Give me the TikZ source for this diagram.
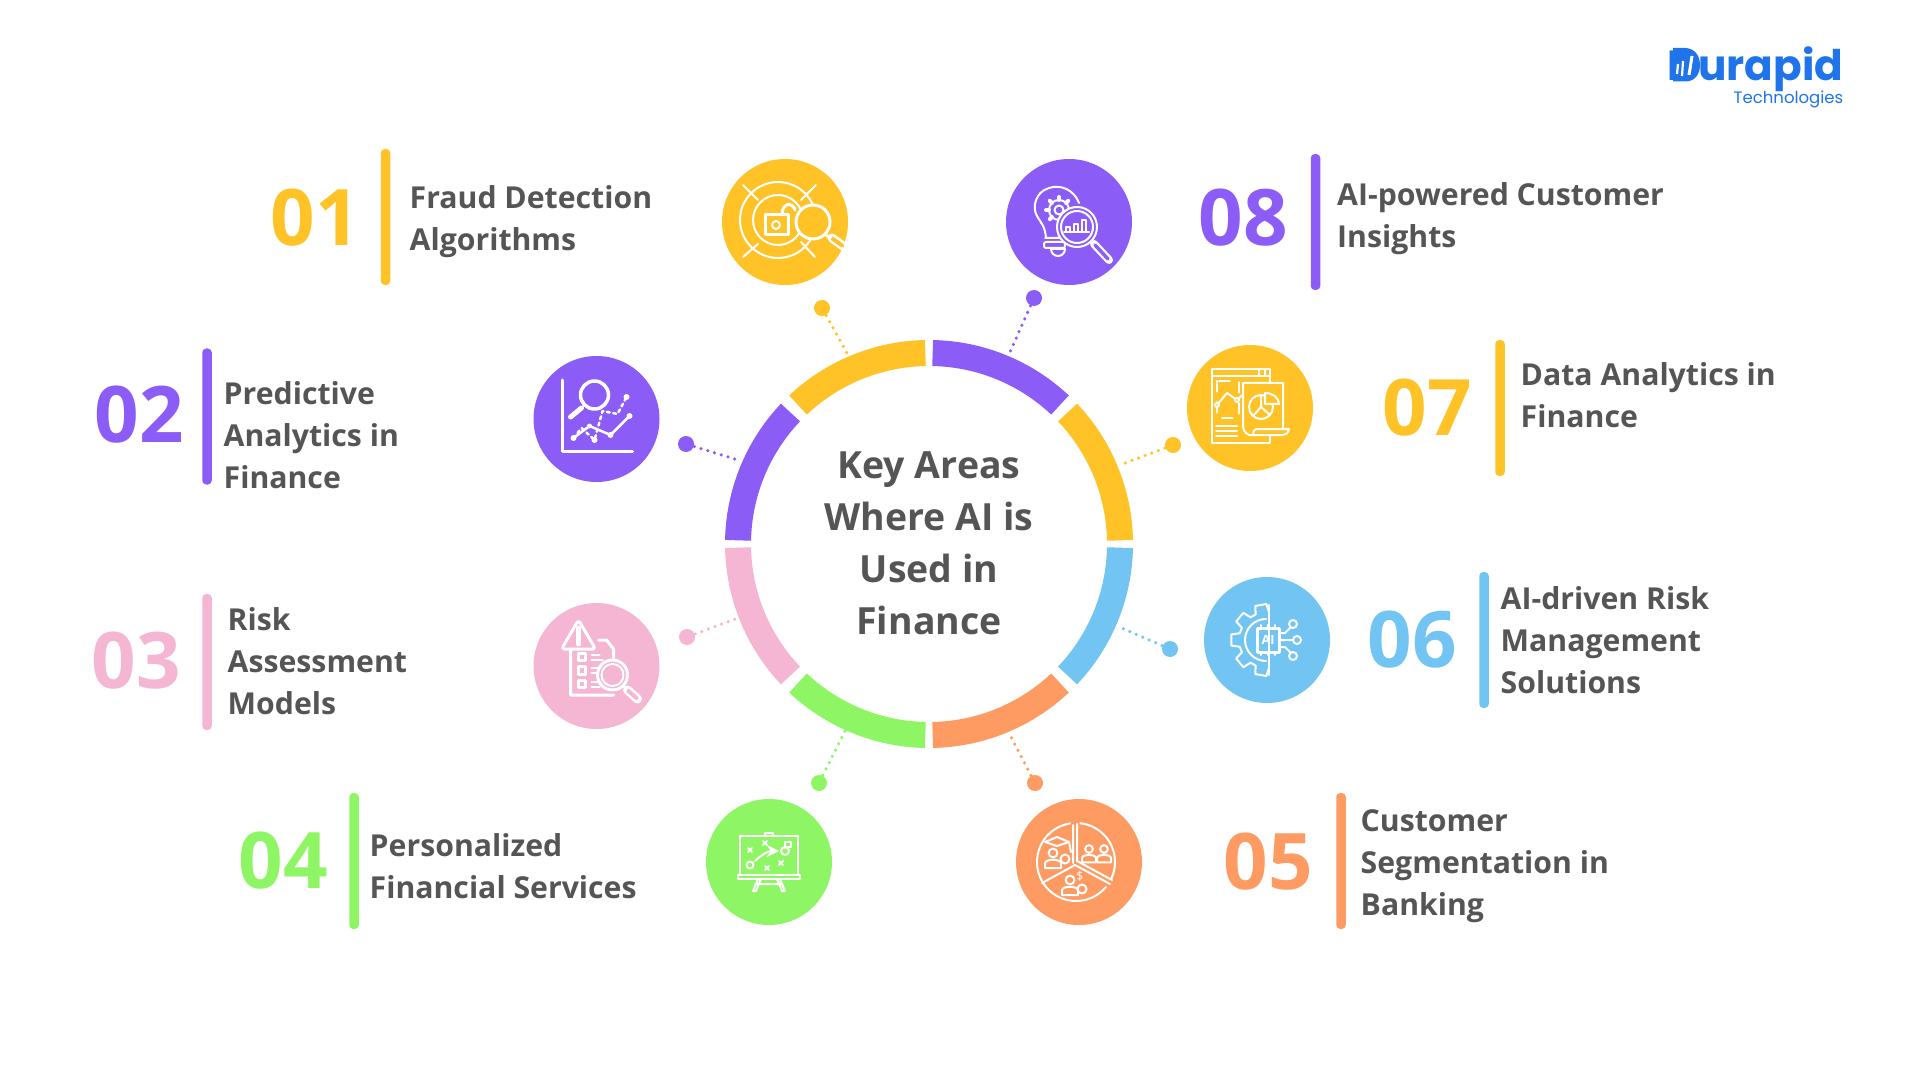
\documentclass[tikz,border=0pt]{standalone}
\usepackage{fontspec}
\setmainfont{Open Sans}
\newfontfamily\logofont{Poppins}

\definecolor{goldc}{HTML}{FFC227}
\definecolor{violetc}{HTML}{8B5CF6}
\definecolor{pinkc}{HTML}{F4B6D2}
\definecolor{greenc}{HTML}{8EF665}
\definecolor{orangec}{HTML}{FD9B63}
\definecolor{bluec}{HTML}{72C4F2}
\definecolor{inkc}{HTML}{555555}
\definecolor{logoc}{HTML}{1E74E8}

\tikzset{
  iconbg/.style = {circle, fill=#1, minimum size=12.6mm, inner sep=0pt},
  enddot/.style = {circle, fill=#1, minimum size=1.6mm, inner sep=0pt},
  divider/.style = {rectangle, rounded corners=0.4mm, fill=#1, minimum width=0.95mm, minimum height=13.6mm, inner sep=0pt},
  bignum/.style = {text=#1, font=\fontsize{22.2}{24}\selectfont\bfseries, inner sep=0pt},
  label/.style = {anchor=west, align=left, text=inkc, inner sep=0pt, font=\fontsize{8.6}{11.95}\selectfont\bfseries},
  ringpart/.style = {draw=#1, line width=2.6mm},
  dotline/.style = {draw=#1, line width=1pt, line cap=round, dash pattern=on 0pt off 2pt},
  iconart/.style = {shift={(#1)}, x=0.1mm, y=-0.1mm, white, line width=0.2mm, line cap=round, line join=round},
}

% head and shoulders: x, y, half width
\newcommand{\personmark}[3]{
  \draw (#1,#2) circle[radius=#3*0.55];
  \draw (#1-#3,#2+#3*1.9) -- (#1-#3,#2+#3*1.3) .. controls (#1-#3,#2+#3*0.7) and (#1+#3,#2+#3*0.7) .. (#1+#3,#2+#3*1.3) -- (#1+#3,#2+#3*1.9) -- cycle;
}

\begin{document}
\begin{tikzpicture}
    \useasboundingbox (0,0) rectangle (19.2,-10.8);

    % ring
    \def\ringc{(9.29,-5.44)}
    \draw[ringpart=violetc] ([shift={\ringc}]46.7:1.91) arc[start angle=46.7, end angle=88.9, radius=1.91];
    \draw[ringpart=goldc] ([shift={\ringc}]1.1:1.91) arc[start angle=1.1, end angle=43.5, radius=1.91];
    \draw[ringpart=bluec] ([shift={\ringc}]-43.5:1.91) arc[start angle=-43.5, end angle=-1.1, radius=1.91];
    \draw[ringpart=orangec] ([shift={\ringc}]-88.9:1.91) arc[start angle=-88.9, end angle=-46.7, radius=1.91];
    \draw[ringpart=greenc] ([shift={\ringc}]-133.3:1.91) arc[start angle=-133.3, end angle=-91.1, radius=1.91];
    \draw[ringpart=pinkc] ([shift={\ringc}]-178.9:1.91) arc[start angle=-178.9, end angle=-136.5, radius=1.91];
    \draw[ringpart=violetc] ([shift={\ringc}]136.5:1.91) arc[start angle=136.5, end angle=178.9, radius=1.91];
    \draw[ringpart=goldc] ([shift={\ringc}]91.1:1.91) arc[start angle=91.1, end angle=133.3, radius=1.91];

    \node[align=center, text=inkc, inner sep=0pt, font=\fontsize{10.65}{14.8}\selectfont\bfseries] (title) at (9.29,-5.43)
      {Key Areas\\Where AI is\\Used in\\Finance};

    % icon discs
    \node[iconbg=goldc] (fraud) at (7.85,-2.22) {};
    \node[iconbg=violetc] (predict) at (5.965,-4.19) {};
    \node[iconbg=pinkc] (risk) at (5.965,-6.66) {};
    \node[iconbg=greenc] (personal) at (7.69,-8.62) {};
    \node[iconbg=orangec] (segment) at (10.79,-8.62) {};
    \node[iconbg=bluec] (managed) at (12.67,-6.40) {};
    \node[iconbg=goldc] (analytics) at (12.50,-4.08) {};
    \node[iconbg=violetc] (insight) at (10.69,-2.22) {};

    % dots and dotted lines
    \node[enddot=goldc] (frauddot) at (8.22,-3.08) {};
    \node[enddot=violetc] (predictdot) at (6.86,-4.44) {};
    \node[enddot=pinkc] (riskdot) at (6.87,-6.37) {};
    \node[enddot=greenc] (personaldot) at (8.19,-7.83) {};
    \node[enddot=orangec] (segmentdot) at (10.35,-7.83) {};
    \node[enddot=bluec] (manageddot) at (11.70,-6.49) {};
    \node[enddot=goldc] (analyticsdot) at (11.73,-4.45) {};
    \node[enddot=violetc] (insightdot) at (10.34,-2.98) {};

    \coordinate (fraudend) at (8.48,-3.55);
    \coordinate (predictend) at (7.38,-4.60);
    \coordinate (riskend) at (7.38,-6.18);
    \coordinate (personalend) at (8.45,-7.31);
    \coordinate (segmentend) at (10.10,-7.35);
    \coordinate (managedend) at (11.17,-6.26);
    \coordinate (analyticsend) at (11.20,-4.65);
    \coordinate (insightend) at (10.10,-3.52);

    \draw[dotline=goldc] (frauddot) -- (fraudend);
    \draw[dotline=violetc] (predictdot) -- (predictend);
    \draw[dotline=pinkc] (riskdot) -- (riskend);
    \draw[dotline=greenc] (personaldot) -- (personalend);
    \draw[dotline=orangec] (segmentdot) -- (segmentend);
    \draw[dotline=bluec] (manageddot) -- (managedend);
    \draw[dotline=goldc] (analyticsdot) -- (analyticsend);
    \draw[dotline=violetc] (insightdot) -- (insightend);

    % numbers, bars, labels
    \node[bignum=goldc] (numa) at (3.15,-2.18) {01};
    \node[divider=goldc] (bara) at (3.855,-2.17) {};
    \node[label] (texta) at (4.09,-2.22) {Fraud Detection\\Algorithms};

    \node[bignum=violetc] (numb) at (1.395,-4.15) {02};
    \node[divider=violetc] (barb) at (2.07,-4.165) {};
    \node[label] (textb) at (2.23,-4.35) {Predictive\\Analytics in\\Finance};

    \node[bignum=pinkc] (numc) at (1.365,-6.61) {03};
    \node[divider=pinkc] (barc) at (2.07,-6.62) {};
    \node[label] (textc) at (2.27,-6.61) {Risk\\Assessment\\Models};

    \node[bignum=greenc] (numd) at (2.83,-8.61) {04};
    \node[divider=greenc] (bard) at (3.54,-8.61) {};
    \node[label] (textd) at (3.69,-8.66) {Personalized\\Financial Services};

    \node[bignum=orangec] (nume) at (12.68,-8.62) {05};
    \node[divider=orangec] (bare) at (13.41,-8.61) {};
    \node[label] (texte) at (13.60,-8.66) {Customer\\Segmentation in\\Banking};

    \node[bignum=bluec] (numf) at (14.12,-6.40) {06};
    \node[divider=bluec] (barf) at (14.84,-6.40) {};
    \node[label] (textf) at (15.00,-6.40) {AI-driven Risk\\Management\\Solutions};

    \node[bignum=goldc] (numg) at (14.275,-4.08) {07};
    \node[divider=goldc] (barg) at (15.00,-4.08) {};
    \node[label] (textg) at (15.20,-3.95) {Data Analytics in\\Finance};

    \node[bignum=violetc] (numh) at (12.43,-2.18) {08};
    \node[divider=violetc] (barh) at (13.155,-2.22) {};
    \node[label] (texth) at (13.365,-2.19) {AI-powered Customer\\Insights};

    % logo
    \node[anchor=base east, inner sep=0pt, text=logoc, font=\logofont\bfseries\fontsize{12}{14}\selectfont] (logoword) at (18.44,-0.81) {Durapid};
    \node[anchor=base east, inner sep=0pt, text=logoc, font=\logofont\fontsize{4.7}{6}\selectfont] (logosub) at (18.44,-1.04) {Technologies};
    \fill[logoc] (16.73,-0.48) -- (16.86,-0.48) .. controls (16.96,-0.49) and (17.00,-0.57) .. (17.00,-0.65) .. controls (17.00,-0.73) and (16.96,-0.81) .. (16.86,-0.815) -- (16.73,-0.815) -- cycle;
    \draw[white, line width=0.22mm] (16.77,-0.74) -- (16.78,-0.64);
    \draw[white, line width=0.22mm] (16.82,-0.76) -- (16.83,-0.61);
    \draw[white, line width=0.3mm] (16.89,-0.75) -- (16.92,-0.56);

    % icon 01, target and magnifier
    \begin{scope}[iconart=fraud]
      \draw (-7,-2) circle[radius=38];
      \draw (-7,-2) circle[radius=25];
      \draw (-42,-37) -- (-27,-22) (31,-37) -- (16,-22) (-42,35) -- (-27,22) (30,35) -- (16,20);
      \draw[line width=0.3mm] (-20,-7) rectangle (3,13);
      \draw (-9,3) circle[radius=4];
      \draw[line width=0.3mm] (-3,-7) .. controls (-3,-20) and (8,-20) .. (10,-12);
      \draw[fill=goldc, line width=0.3mm] (28,0) circle[radius=17];
      \draw[line width=0.3mm] (40,12) -- (50,20);
      \draw[line width=0.9mm] (47,16) -- (58,24);
      \draw[goldc, line width=0.4mm] (48,17) -- (57,23.5);
    \end{scope}

    % icon 02, chart and magnifier
    \begin{scope}[iconart=predict]
      \draw[line width=0.3mm] (-34,-39) -- (-34,32) -- (36,32);
      \draw[line width=0.35mm] (-2,-24) circle[radius=14];
      \draw[line width=0.2mm] (-12,-14) -- (-16,-10);
      \draw[line width=0.5mm] (-15,-11) -- (-26,-2);
      \draw[line width=0.25mm, dash pattern=on 0.3mm off 0.35mm] (-23,19) -- (-15,9) -- (-2,21) -- (6,-8) -- (21,-5) -- (30,-22);
      \draw[line width=0.25mm] (-23,19) -- (-7,7) -- (14,16) -- (33,-3);
      \fill (-23,19) circle[radius=3] (-7,7) circle[radius=2.5] (14,16) circle[radius=3] (33,-3) circle[radius=3] (-2,21) circle[radius=3] (30,-22) circle[radius=3];
    \end{scope}

    % icon 03, warning sign and report
    \begin{scope}[iconart=risk]
      \draw[line width=0.3mm] (2,-26) -- (10,-26) -- (17,-17) -- (17,-8) (-26,-17) -- (-26,29) -- (17,29);
      \draw[line width=0.3mm, fill=pinkc, rounded corners=0.3mm] (-18,-46) -- (-35,-17) -- (-1,-17) -- cycle;
      \draw[line width=0.5mm] (-18,-38) -- (-18,-22);
      \draw[line width=0.3mm] (-18,-13) rectangle (-11,-6) (-18,0) rectangle (-11,8) (-18,14) rectangle (-11,21);
      \draw (-5,-11) -- (3,-11) (-5,-6) -- (6,-6) (-5,2) -- (3,2) (-5,7) -- (3,7) (-5,16) -- (3,16) (-5,21) -- (3,21);
      \draw[line width=0.3mm, fill=pinkc] (16,9) circle[radius=15];
      \draw (16,9) circle[radius=11];
      \draw (27,20) -- (31,24);
      \draw[line width=0.9mm] (31,24) -- (41,33);
      \draw[pinkc, line width=0.4mm] (32,25) -- (40,32);
    \end{scope}

    % icon 04, tactics board
    \begin{scope}[iconart=personal]
      \draw (-29,13) -- (-29,-26) -- (29,-26) -- (29,13);
      \draw (-4,-26) -- (-4,-29) -- (4,-29) -- (4,-26);
      \draw[line width=0.25mm] (-31,13) rectangle (31,17);
      \draw (-11,17) -- (-16,29) -- (-13,29) -- (-8,17) (11,17) -- (16,29) -- (13,29) -- (8,17) (-12,22) -- (12,22);
      \draw (-21,-14) -- (-17,-10) (-21,-10) -- (-17,-14) (-6,-21) -- (-2,-17) (-6,-17) -- (-2,-21);
      \draw (10,-1) -- (14,3) (10,3) -- (14,-1) (-4,4) -- (0,8) (-4,8) -- (0,4);
      \draw[->, >=stealth] (-14,-1) .. controls (-7,-8) and (0,-11) .. (10,-11);
      \draw (-19,3) circle[radius=3.5];
      \draw (16,-11) circle[radius=4];
      \draw (16,-14) -- (16,-20) -- (22,-20) -- (22,-15) -- (16,-15);
    \end{scope}

    % icon 05, segment pie
    \begin{scope}[iconart=segment]
      \draw (-3,0) circle[radius=39];
      \draw[orangec, line width=0.9mm, line cap=butt] (-4,3) -- (-4,-42) (-4,3) -- (38,25);
      \draw (-6,1) -- (-6,-37) (-2,-38) -- (-2,-1) -- (33,18) (-4,3) -- (31,22) (-4,3) -- (-37,21);
      \personmark{-26}{-9}{8}
      \draw (-34,-20) -- (-22,-25) -- (-10,-20) -- (-22,-16) -- cycle (-10,-20) -- (-8,-10);
      \draw[fill=orangec] (-14,-3) circle[radius=4.5];
      \personmark{10}{-13}{7}
      \personmark{25}{-13}{7}
      \personmark{-9}{18}{8}
      \draw[fill=orangec] (3,27) circle[radius=4.5];
      \node[white, inner sep=0pt, font=\fontsize{3.5}{4}\selectfont] (segmentcash) at (1,14) {\$};
    \end{scope}

    % icon 06, half gear and chip
    \begin{scope}[iconart=managed]
      \draw (2,-35) -- (2,35);
      \foreach \ang in {100,140,180,220,260}
        \draw (\ang-14:28) -- (\ang-9:36) -- (\ang+9:36) -- (\ang+14:28);
      \foreach \ang in {114,154,194,234}
        \draw (\ang:28) -- (\ang+12:28);
      \draw (-1,-21) arc[start angle=-90, end angle=-270, radius=21];
      \draw[line width=0.3mm] (-10,-12) rectangle (12,12);
      \draw (-6,-12) -- (-6,-15) (1,-12) -- (1,-15) (8,-12) -- (8,-15) (-6,12) -- (-6,15) (1,12) -- (1,15) (8,12) -- (8,15);
      \node[white, inner sep=0pt, font=\fontsize{3.6}{4}\selectfont\bfseries] (chiptext) at (1,0) {AI};
      \draw (12,0) -- (26,0) (12,-7) -- (18,-7) -- (24,-13) (12,7) -- (18,7) -- (24,13);
      \draw (30,0) circle[radius=4] (26,-16) circle[radius=4] (26,16) circle[radius=4];
    \end{scope}

    % icon 07, report window and pie
    \begin{scope}[iconart=analytics]
      \draw (-38,-39) rectangle (20,35);
      \draw (-38,-32) -- (20,-32) (9,-39) -- (9,-32) (15,-39) -- (15,-32);
      \draw[dashed] (-33,-27) rectangle (-11,10);
      \draw (-33,-3) -- (-23,-15) -- (-13,-8) -- (-1,-19);
      \draw[fill=goldc] (-33,-3) circle[radius=2] (-13,-8) circle[radius=2] (-1,-19) circle[radius=2];
      \draw (-34,18) -- (-13,18) (-34,23) -- (-13,23) (-34,28) -- (-13,28);
      \draw[fill=goldc] (-7,-25) -- (33,-25) -- (33,21) -- (39,21) .. controls (38,25) and (36,27) .. (33,27) -- (-1,27) .. controls (-5,25) and (-7,22) .. (-7,17) -- cycle;
      \draw (3,27) .. controls (3,24) and (4,21) .. (6,21) -- (33,21);
      \draw (11,-1) circle[radius=12] (11,-1) -- (11,-13) (11,-1) -- (20,7) (11,-1) -- (3,8);
      \draw[fill=goldc] (15,-15) -- (15,-4) -- (29,-4) .. controls (29,-10) and (23,-15) .. (15,-15) -- cycle;
    \end{scope}

    % icon 08, bulb and magnifier
    \begin{scope}[iconart=insight]
      \draw (10,-19) .. controls (5,-32) and (-8,-38) .. (-20,-34) .. controls (-34,-30) and (-37,-14) .. (-32,-6) .. controls (-28,1) and (-24,4) .. (-23,16);
      \draw[rounded corners=0.2mm] (-24,16) -- (-3,16) (-25,20) -- (-4,20) -- (-4,26) -- (-25,26) -- cycle;
      \draw (-18,27) arc[start angle=180, end angle=0, radius=7];
      \draw (-18,27) -- (-4,27);
      \foreach \ang in {0,45,...,315}
        \draw[line width=0.4mm] ([shift={(-10,-12)}]\ang:10) -- ([shift={(-10,-12)}]\ang:13);
      \draw (-10,-12) circle[radius=10];
      \draw (-10,-12) circle[radius=4.5];
      \draw[fill=violetc] (8,5) circle[radius=20];
      \draw (8,5) circle[radius=16];
      \draw (22,19) -- (25,22);
      \draw[line width=0.8mm] (25,22) -- (40,38);
      \draw[violetc, line width=0.35mm] (26,23) -- (39,37);
      \draw (-5,10) -- (20,10) (-3,10) -- (-3,5) -- (1,5) -- (1,10) (5,10) -- (5,2) -- (9,2) -- (9,10) (13,10) -- (13,-2) -- (17,-2) -- (17,10);
    \end{scope}

  \end{tikzpicture}
\end{document}
